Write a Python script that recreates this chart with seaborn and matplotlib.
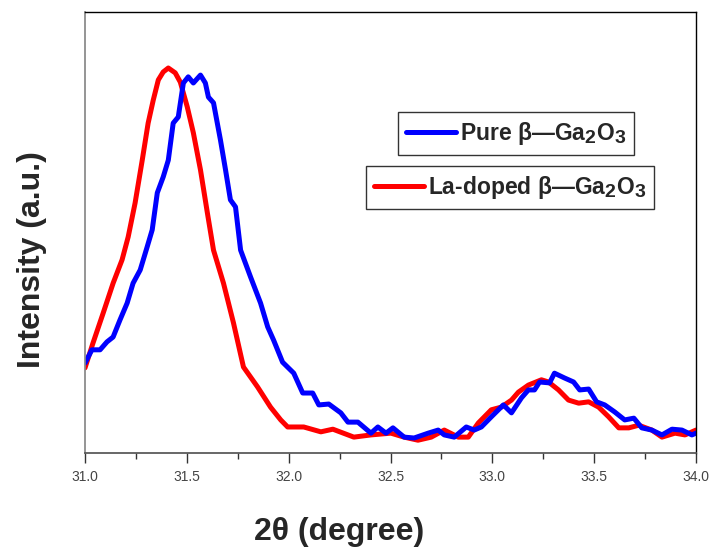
import numpy as np
import pandas as pd
import matplotlib
matplotlib.use("Agg")
import matplotlib.pyplot as plt
import seaborn as sns
from matplotlib.lines import Line2D
from matplotlib.ticker import MultipleLocator, FormatStrFormatter

try:
    # the reference uses big subscripts in Ga2O3
    import matplotlib._mathtext as _mt
    _mt.SHRINK_FACTOR = 0.85
except Exception:
    pass

# traced XRD curves (2theta in degree, intensity in arbitrary units)
pure_2theta = [31.000, 31.034, 31.074, 31.108, 31.138, 31.172, 31.207, 31.236, 31.271, 31.305,
               31.330, 31.355, 31.384, 31.409, 31.433, 31.458, 31.483, 31.507, 31.532, 31.567,
               31.591, 31.606, 31.631, 31.665, 31.690, 31.714, 31.739, 31.764, 31.813, 31.862,
               31.897, 31.926, 31.970, 32.025, 32.069, 32.118, 32.148, 32.197, 32.256, 32.291,
               32.340, 32.404, 32.438, 32.478, 32.512, 32.567, 32.616, 32.685, 32.734, 32.764,
               32.813, 32.872, 32.911, 32.946, 32.995, 33.054, 33.094, 33.143, 33.177, 33.207,
               33.232, 33.281, 33.305, 33.355, 33.399, 33.429, 33.473, 33.512, 33.552, 33.601,
               33.650, 33.695, 33.734, 33.783, 33.833, 33.882, 33.931, 33.980, 34.000]
pure_int = [20.4, 23.4, 23.4, 25.2, 26.3, 30.2, 34.0, 38.5, 41.5, 46.7,
            50.6, 59.0, 62.6, 66.4, 74.8, 76.2, 83.9, 85.3, 83.9, 85.7,
            83.9, 80.7, 79.4, 71.0, 64.2, 57.4, 55.8, 46.0, 39.9, 34.0,
            28.6, 25.6, 20.6, 18.1, 13.6, 13.6, 10.9, 11.1, 9.1, 7.0,
            7.0, 4.5, 5.9, 4.5, 5.7, 3.6, 3.4, 4.5, 5.2, 4.1,
            3.6, 5.9, 5.2, 5.9, 8.2, 10.9, 9.1, 12.5, 14.3, 14.3,
            16.1, 15.9, 18.1, 17.0, 16.1, 14.3, 14.5, 11.6, 10.9, 9.3,
            7.5, 7.9, 5.7, 5.2, 4.1, 5.4, 5.2, 4.1, 4.5]

doped_2theta = [31.000, 31.039, 31.089, 31.138, 31.182, 31.212, 31.246, 31.281, 31.310, 31.335,
                31.360, 31.384, 31.409, 31.443, 31.468, 31.502, 31.532, 31.567, 31.601, 31.631,
                31.680, 31.729, 31.778, 31.847, 31.911, 31.961, 31.995, 32.074, 32.158, 32.217,
                32.320, 32.404, 32.502, 32.567, 32.635, 32.700, 32.764, 32.833, 32.882, 32.931,
                32.995, 33.044, 33.094, 33.128, 33.177, 33.241, 33.276, 33.325, 33.374, 33.424,
                33.473, 33.522, 33.571, 33.621, 33.670, 33.719, 33.783, 33.833, 33.897, 33.946,
                34.000]
doped_int = [19.3, 24.9, 31.7, 38.5, 43.8, 49.0, 56.7, 66.4, 74.8, 80.0,
             84.6, 86.4, 87.3, 86.2, 84.1, 78.5, 72.6, 64.2, 54.4, 46.0,
             38.5, 29.5, 19.5, 15.0, 10.4, 7.5, 5.9, 5.9, 4.8, 5.4,
             3.6, 4.1, 4.5, 3.6, 2.9, 3.6, 5.2, 3.6, 3.6, 6.8,
             9.8, 10.4, 12.0, 13.8, 15.4, 16.6, 16.1, 14.3, 12.0, 11.3,
             11.6, 10.4, 8.2, 5.7, 5.7, 6.3, 5.2, 3.6, 4.5, 4.1,
             5.2]

labels = [r"Pure β—Ga$_2$O$_3$", r"La-doped β—Ga$_2$O$_3$"]
colors = ["#0000FF", "#FF0000"]

sns.set_theme(style="ticks")
plt.rcParams["font.family"] = ["Liberation Sans", "DejaVu Sans"]
plt.rcParams["mathtext.fontset"] = "custom"
plt.rcParams["mathtext.rm"] = "Liberation Sans:bold"
plt.rcParams["mathtext.it"] = "Liberation Sans:bold"
plt.rcParams["mathtext.bf"] = "Liberation Sans:bold"

fig = plt.figure(figsize=(7.13, 5.54), dpi=100)
ax = fig.add_axes([85 / 713, 1 - 453 / 554, (696 - 85) / 713, (453 - 12) / 554])

pure = pd.DataFrame({"x": pure_2theta, "y": pure_int})
doped = pd.DataFrame({"x": doped_2theta, "y": doped_int})
sns.lineplot(data=doped, x="x", y="y", color=colors[1], lw=3.6, ax=ax, estimator=None)
sns.lineplot(data=pure, x="x", y="y", color=colors[0], lw=3.6, ax=ax, estimator=None)

ax.set_xlim(31.0, 34.0)
ax.set_ylim(0, 100)
ax.xaxis.set_major_locator(MultipleLocator(0.5))
ax.xaxis.set_minor_locator(MultipleLocator(0.25))
ax.xaxis.set_major_formatter(FormatStrFormatter("%.1f"))
ax.tick_params(axis="x", which="major", direction="out", length=7, width=1,
               color="#333333", labelsize=10, labelcolor="#444444", pad=5)
ax.tick_params(axis="x", which="minor", direction="out", length=4, width=1, color="#333333")
ax.set_yticks([])

for side in ["top", "right"]:
    ax.spines[side].set_visible(True)
    ax.spines[side].set_color("black")
    ax.spines[side].set_linewidth(1.0)
ax.spines["left"].set_color("#888888")
ax.spines["bottom"].set_color("#555555")

ax.set_xlabel("2θ (degree)", fontsize=23, fontweight="bold")
ax.xaxis.set_label_coords(0.416, -0.145)
ax.set_ylabel("Intensity (a.u.)", fontsize=23, fontweight="bold")
ax.yaxis.set_label_coords(-0.063, 0.438)

leg_kw = dict(frameon=True, fancybox=False, edgecolor="black", handlelength=2.2,
              handletextpad=0.15, borderpad=0.35, borderaxespad=0,
              prop={"weight": "bold", "size": 16.5})
h_pure = Line2D([], [], color=colors[0], lw=3.6)
h_doped = Line2D([], [], color=colors[1], lw=3.6)
leg1 = ax.legend([h_pure], [labels[0]], loc="upper left",
                 bbox_to_anchor=((398 - 85) / 611, (453 - 112) / 441), **leg_kw)
leg1.get_frame().set_linewidth(1.0)
ax.add_artist(leg1)
leg2 = ax.legend([h_doped], [labels[1]], loc="upper left",
                 bbox_to_anchor=((366 - 85) / 611, (453 - 166) / 441), **leg_kw)
leg2.get_frame().set_linewidth(1.0)

fig.savefig("out.png", dpi=100)
